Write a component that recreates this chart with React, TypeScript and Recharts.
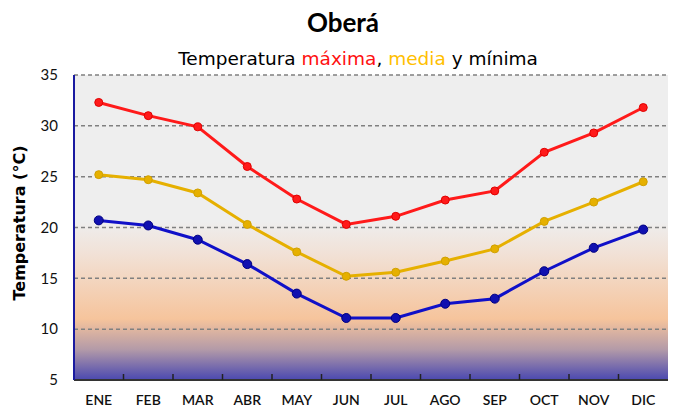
import React from "react";
import {
  LineChart,
  Line,
  XAxis,
  YAxis,
  CartesianGrid,
} from "recharts";

const months = ["ENE", "FEB", "MAR", "ABR", "MAY", "JUN", "JUL", "AGO", "SEP", "OCT", "NOV", "DIC"];
const tMax = [32.3, 31.0, 29.9, 26.0, 22.8, 20.3, 21.1, 22.7, 23.6, 27.4, 29.3, 31.8];
const tMed = [25.2, 24.7, 23.4, 20.3, 17.6, 15.2, 15.6, 16.7, 17.9, 20.6, 22.5, 24.5];
const tMin = [20.7, 20.2, 18.8, 16.4, 13.5, 11.1, 11.1, 12.5, 13.0, 15.7, 18.0, 19.8];
const yTicks = [5, 10, 15, 20, 25, 30, 35];

const data = months.map((m, i) => ({ mes: m, max: tMax[i], med: tMed[i], min: tMin[i] }));

const FONT = "Lato, 'DejaVu Sans', sans-serif";
const WIDE = "'DejaVu Sans', sans-serif";

// month label plus the small separator mark at the right edge of its band
const MonthTick = (props: any) => {
  const { x, y, payload, index } = props;
  const half = payload?.offset ?? 0;
  return (
    <g>
      {index < months.length - 1 ? (
        <line x1={x + half} x2={x + half} y1={y} y2={y - 6} stroke="#222" strokeWidth={1.5} />
      ) : null}
      <text x={x} y={y + 25} textAnchor="middle" fontSize={14} fontWeight={600} fill="#111" fontFamily={FONT}>
        {payload.value}
      </text>
    </g>
  );
};

export default function App() {
  return (
    <div style={{ position: "absolute", top: 0, left: 0, width: 700, height: 412, background: "#fff", fontFamily: FONT, overflow: "hidden" }}>
      <div style={{ position: "absolute", top: 6, left: -7, width: 700, textAlign: "center", fontSize: 26, fontWeight: 700, color: "#000" }}>
        Oberá
      </div>
      <div style={{ position: "absolute", top: 48, left: 8, width: 700, textAlign: "center", fontSize: 18.5, color: "#000", fontFamily: WIDE }}>
        Temperatura <span style={{ color: "#ff1010" }}>máxima</span>,{" "}
        <span style={{ color: "#ffc000" }}>media</span> y mínima
      </div>
      <div style={{ position: "absolute", top: 0, left: 0 }}>
        <LineChart width={700} height={412} data={data} margin={{ top: 75, right: 32, left: 34, bottom: 0 }}>
          <defs>
            <linearGradient id="bg" x1="0" y1="0" x2="0" y2="1">
              <stop offset="0%" stopColor="#eeeeee" />
              <stop offset="48%" stopColor="#eeeeee" />
              <stop offset="58%" stopColor="#f1e2d8" />
              <stop offset="80%" stopColor="#f6c49c" />
              <stop offset="90%" stopColor="#b39aa8" />
              <stop offset="100%" stopColor="#4a48b0" />
            </linearGradient>
          </defs>
          <CartesianGrid vertical={false} fill="url(#bg)" fillOpacity={1}
            stroke="#808080" strokeDasharray="4 3" strokeWidth={1.5} />
          <XAxis dataKey="mes" scale="band" height={32} interval={0} tickLine={false} tickSize={0} tickMargin={0}
            axisLine={{ stroke: "#333", strokeWidth: 2 }} tick={<MonthTick />} />
          <YAxis domain={[5, 35]} ticks={yTicks} width={40} tickLine={false}
            axisLine={{ stroke: "#1a1aa0", strokeWidth: 2 }} tickMargin={10}
            tick={{ fontSize: 15, fill: "#111", fontFamily: FONT }}
            label={{ value: "Temperatura (°C)", angle: -90, position: "insideLeft", offset: -15, dy: 73,
              style: { fontSize: 16, fontWeight: 700, fill: "#000", fontFamily: WIDE } }} />
          <YAxis yAxisId="r" orientation="right" domain={[5, 35]} width={0} tick={false} tickLine={false}
            axisLine={{ stroke: "#a0a0a0", strokeWidth: 2 }} />
          <Line dataKey="max" stroke="#ff1a1a" strokeWidth={3}
            dot={{ r: 4, fill: "#ff1a1a", stroke: "#e00000", strokeWidth: 1 }} isAnimationActive={false} />
          <Line dataKey="med" stroke="#e6b000" strokeWidth={3}
            dot={{ r: 4, fill: "#e6b000", stroke: "#d0a000", strokeWidth: 1 }} isAnimationActive={false} />
          <Line dataKey="min" stroke="#1010c8" strokeWidth={3}
            dot={{ r: 4.5, fill: "#1010b0", stroke: "#000080", strokeWidth: 1 }} isAnimationActive={false} />
        </LineChart>
      </div>
    </div>
  );
}
